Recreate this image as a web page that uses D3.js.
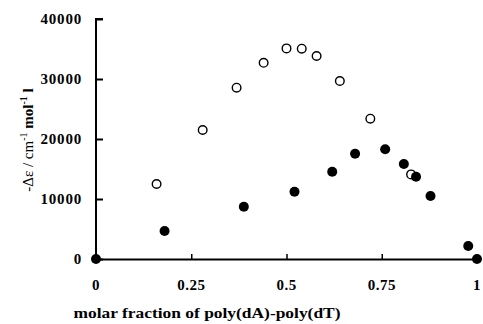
<!DOCTYPE html>
<html>
<head>
<meta charset="utf-8">
<script src="https://cdn.jsdelivr.net/npm/d3@7"></script>
<style>
  body { margin: 0; background: #fff; }
</style>
</head>
<body>
<svg id="chart" width="483" height="324"></svg>
<script>
// open circles
const openX = [0.159, 0.28, 0.369, 0.44, 0.50, 0.54, 0.579, 0.64, 0.72, 0.827]
const openY = [12500, 21500, 28550, 32700, 35100, 35050, 33830, 29670, 23380, 14100]
// filled circles
const filledX = [0, 0.18, 0.388, 0.521, 0.62, 0.68, 0.759, 0.808, 0.84, 0.878, 0.977, 1.0]
const filledY = [0, 4670, 8720, 11200, 14550, 17550, 18280, 15830, 13720, 10500, 2170, 0]

const xTicks = [0, 0.25, 0.5, 0.75, 1]
const xTickLabels = ['0', '0.25', '0.5', '0.75', '1']
const yTicks = [0, 10000, 20000, 30000, 40000]

const serif = "'Liberation Serif', 'Times New Roman', Times, serif"

const svg = d3.select('#chart')
  .style('font-family', serif)

const xScale = d3.scaleLinear().domain([0, 1]).range([96, 477])
const yScale = d3.scaleLinear().domain([0, 40000]).range([259, 19])

// y axis
const yAxis = svg.append('g')
  .attr('transform', 'translate(96,0)')
  .call(d3.axisRight(yScale).tickValues(yTicks).tickSize(7).tickFormat(''))
yAxis.select('.domain').attr('stroke-width', 2).attr('d', `M7,${yScale(40000)}H0V${yScale(0)}`)
yAxis.selectAll('.tick line').attr('stroke-width', 2)

svg.append('g').selectAll('text')
  .data(yTicks)
  .enter()
  .append('text')
  .attr('x', 82)
  .attr('y', d => yScale(d) + 5)
  .attr('text-anchor', 'end')
  .attr('font-family', serif)
  .attr('font-size', 15)
  .attr('font-weight', 'bold')
  .attr('letter-spacing', 0.8)
  .text(d => d)

// x axis
const xAxis = svg.append('g')
  .attr('transform', 'translate(0,259)')
  .call(d3.axisTop(xScale).tickValues(xTicks.slice(1, 4)).tickSize(5).tickFormat('').tickSizeOuter(0))
xAxis.select('.domain').attr('stroke-width', 2)
xAxis.selectAll('.tick line').attr('stroke-width', 1.5)

svg.append('g').selectAll('text')
  .data(xTicks)
  .enter()
  .append('text')
  .attr('x', (d, i) => xScale(d))
  .attr('y', 290)
  .attr('text-anchor', 'middle')
  .attr('font-family', serif)
  .attr('font-size', 15)
  .attr('font-weight', 'bold')
  .attr('letter-spacing', 0.5)
  .text((d, i) => xTickLabels[i])

// axis titles
svg.append('text')
  .attr('x', 207)
  .attr('y', 318)
  .attr('text-anchor', 'middle')
  .attr('font-family', serif)
  .attr('font-size', 15)
  .attr('font-weight', 'bold')
  .attr('textLength', 267)
  .attr('lengthAdjust', 'spacingAndGlyphs')
  .text('molar fraction of poly(dA)-poly(dT)')

const yTitle = svg.append('text')
  .attr('transform', 'translate(33,140) rotate(-90)')
  .attr('text-anchor', 'middle')
  .attr('font-family', serif)
  .attr('font-size', 15)
yTitle.append('tspan').text('-Δε / cm')
yTitle.append('tspan').attr('font-size', 10).attr('dy', -6).text('-1')
yTitle.append('tspan').attr('font-weight', 'bold').attr('dy', 6).text(' mol')
yTitle.append('tspan').attr('font-size', 10).attr('font-weight', 'bold').attr('dy', -6).text('-1')
yTitle.append('tspan').attr('font-weight', 'bold').attr('dy', 6).text(' l')

// points
svg.append('g').selectAll('circle')
  .data(openX.map((x, i) => [x, openY[i]]))
  .enter()
  .append('circle')
  .attr('cx', d => xScale(d[0]))
  .attr('cy', d => yScale(d[1]))
  .attr('r', 4.3)
  .attr('fill', '#fff')
  .attr('stroke', '#000')
  .attr('stroke-width', 1.4)

svg.append('g').selectAll('circle')
  .data(filledX.map((x, i) => [x, filledY[i]]))
  .enter()
  .append('circle')
  .attr('cx', d => xScale(d[0]))
  .attr('cy', d => yScale(d[1]))
  .attr('r', 5)
  .attr('fill', '#000')
</script>
</body>
</html>
